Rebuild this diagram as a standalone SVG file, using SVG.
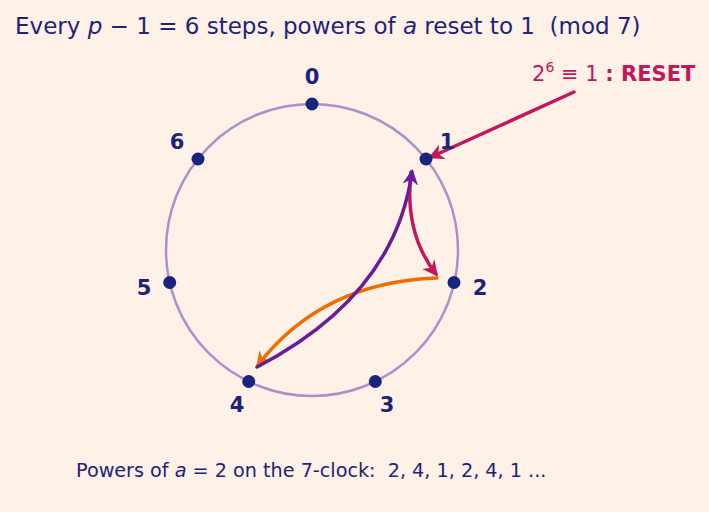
<svg xmlns="http://www.w3.org/2000/svg" width="709" height="512" viewBox="0 0 709 512">
<style>
text{white-space:pre}
.t{font-family:"DejaVu Sans",sans-serif;fill:#1f2378}
.lbl{font-family:"DejaVu Sans",sans-serif;font-weight:bold;font-size:21px;fill:#1a237e;text-anchor:middle}
.dot{fill:#1a237e}
.arc{fill:none;stroke-width:3.5;stroke-linecap:round}
</style>
<defs>
<marker id="mc" viewBox="0 0 10 10" refX="8" refY="5" markerWidth="4.5" markerHeight="4.5" orient="auto" markerUnits="strokeWidth"><path d="M0,0 L10,5 L0,10 L3,5 Z" fill="#c2185b"/></marker>
<marker id="mo" viewBox="0 0 10 10" refX="8" refY="5" markerWidth="4.5" markerHeight="4.5" orient="auto" markerUnits="strokeWidth"><path d="M0,0 L10,5 L0,10 L3,5 Z" fill="#ef6c00"/></marker>
<marker id="mp" viewBox="0 0 10 10" refX="8" refY="5" markerWidth="4.5" markerHeight="4.5" orient="auto" markerUnits="strokeWidth"><path d="M0,0 L10,5 L0,10 L3,5 Z" fill="#6a1b9a"/></marker>
</defs>
<rect width="709" height="512" fill="#fdf1e8"/>
<text class="t" x="15" y="34" font-size="23" xml:space="preserve">Every <tspan font-style="italic">p</tspan> − 1 = 6 steps, powers of <tspan font-style="italic">a</tspan> reset to 1  (mod 7)</text>
<circle cx="312" cy="250" r="146" fill="none" stroke="#b38dc9" stroke-width="2.5"/>
<g id="connectors">
<path class="arc" stroke="#c2185b" d="M411,172 Q404,233 436,274" marker-end="url(#mc)"/>
<path class="arc" stroke="#ef6c00" d="M437,278 Q322,282 258,365" marker-end="url(#mo)"/>
<path class="arc" stroke="#6a1b9a" d="M257,367 Q395,295 412,172" marker-end="url(#mp)"/>
<path class="arc" stroke="#c2185b" stroke-width="3" d="M574,92 L431,157" marker-end="url(#mc)"/>
</g>
<g id="n0"><circle class="dot" cx="312" cy="104" r="6.5"/><text class="lbl" x="312" y="84">0</text></g>
<g id="n1"><circle class="dot" cx="426" cy="159" r="6.5"/><text class="lbl" x="447" y="149">1</text></g>
<g id="n2"><circle class="dot" cx="454" cy="282.5" r="6.5"/><text class="lbl" x="480" y="295">2</text></g>
<g id="n3"><circle class="dot" cx="375.3" cy="381.5" r="6.5"/><text class="lbl" x="387" y="412">3</text></g>
<g id="n4"><circle class="dot" cx="248.7" cy="381.5" r="6.5"/><text class="lbl" x="237" y="412">4</text></g>
<g id="n5"><circle class="dot" cx="169.7" cy="282.5" r="6.5"/><text class="lbl" x="144" y="295">5</text></g>
<g id="n6"><circle class="dot" cx="198" cy="159" r="6.5"/><text class="lbl" x="177" y="149">6</text></g>
<text x="532" y="81" font-family="DejaVu Sans,sans-serif" font-size="21" fill="#c2185b">2<tspan font-size="14" dy="-9">6</tspan><tspan dy="9"> ≡ 1 </tspan><tspan font-weight="bold">: RESET</tspan></text>
<text class="t" x="76" y="477" font-size="19.2" xml:space="preserve">Powers of <tspan font-style="italic">a</tspan> = 2 on the 7-clock:  2, 4, 1, 2, 4, 1 ...</text>
</svg>
